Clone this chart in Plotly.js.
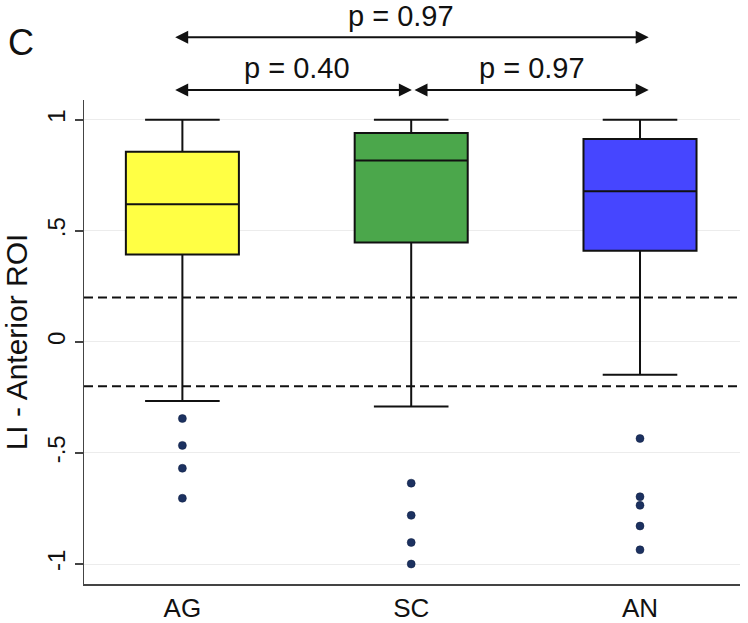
<!DOCTYPE html>
<html>
<head>
<meta charset="utf-8">
<script src="https://cdn.plot.ly/plotly-3.0.1.min.js"></script>
<style>html,body{margin:0;padding:0;background:#fff;}#chart{width:748px;height:623px;}</style>
</head>
<body>
<div id="chart"></div>
<script>
// ---- data ----
const groups = ['AG', 'SC', 'AN'];
const lowerWhisker = [-0.266, -0.291, -0.148];
const q1Values = [0.393, 0.447, 0.410];
const medianValues = [0.620, 0.817, 0.678];
const q3Values = [0.856, 0.940, 0.913];
const upperWhisker = [1.0, 1.0, 1.0];
const outliersAG = [-0.345, -0.466, -0.569, -0.704];
const outliersSC = [-0.636, -0.781, -0.903, -1.0];
const outliersAN = [-0.435, -0.697, -0.736, -0.829, -0.936];
const boxColors = ['#FFFF44', '#4BA74B', '#4646FF'];
const cutoffLines = [0.2, -0.2];
const yTickVals = [-1, -0.5, 0, 0.5, 1];
const yTickText = ['-1', '-.5', '0', '.5', '1'];
// comparisons: [from group index, to group index, p-value label, row]
const compFrom = [0, 0, 1];
const compTo = [2, 1, 2];
const compLabel = ['p = 0.97', 'p = 0.40', 'p = 0.97'];
const compRow = [1, 0, 0];

const FONT = 'Liberation Sans, Arial, sans-serif';
const outlierSets = [outliersAG, outliersSC, outliersAN];

const traces = [];
groups.forEach((g, i) => {
  traces.push({
    type: 'box',
    x: [g],
    q1: [q1Values[i]],
    median: [medianValues[i]],
    q3: [q3Values[i]],
    lowerfence: [lowerWhisker[i]],
    upperfence: [upperWhisker[i]],
    boxpoints: false,
    width: 0.494,
    whiskerwidth: 0.66,
    fillcolor: boxColors[i],
    line: {color: '#111', width: 2},
    showlegend: false,
    hoverinfo: 'skip'
  });
});
groups.forEach((g, i) => {
  traces.push({
    type: 'scatter',
    mode: 'markers',
    x: outlierSets[i].map(() => g),
    y: outlierSets[i],
    marker: {color: '#1c3160', size: 8, line: {color: '#0d1d40', width: 0.5}},
    showlegend: false,
    hoverinfo: 'skip',
    cliponaxis: false
  });
});

const shapes = cutoffLines.map(v => ({
  type: 'line', xref: 'paper', x0: 0, x1: 1, yref: 'y', y0: v, y1: v,
  line: {color: '#111', width: 2, dash: '9px,5px'}, layer: 'above'
}));

const rowArrowY = [1.0207, 1.1295];
const rowTextY = [1.066, 1.174];
const overshoot = 0.038;
const annotations = [];
compFrom.forEach((f, k) => {
  const t = compTo[k];
  const r = compRow[k];
  const startX = f === 1 ? f + 0.008 : f - overshoot;
  const endX = t === 1 ? t + 0.003 : t + overshoot;
  annotations.push({
    xref: 'x', yref: 'paper', x: endX, y: rowArrowY[r],
    axref: 'x', ayref: 'pixel', ax: startX, ay: 0,
    text: '', showarrow: true, arrowside: 'end+start',
    arrowhead: 2, startarrowhead: 2, arrowsize: 1.3, startarrowsize: 1.3,
    arrowwidth: 2, arrowcolor: '#111', standoff: 0, startstandoff: 0
  });
  annotations.push({
    xref: 'x', yref: 'paper', x: (f + t) / 2 + (r === 1 ? -0.045 : (f === 1 ? 0.03 : 0)),
    y: rowTextY[r], xanchor: 'center', yanchor: 'middle',
    text: compLabel[k], showarrow: false,
    font: {family: FONT, size: 29, color: '#111'}
  });
});
annotations.push({
  xref: 'paper', yref: 'paper', x: -0.096, y: 1.118, xanchor: 'center', yanchor: 'middle',
  text: 'C', showarrow: false, font: {family: FONT, size: 36, color: '#111'}
});

const layout = {
  width: 748, height: 623,
  margin: {l: 84, r: 8, t: 100, b: 39},
  paper_bgcolor: '#fff', plot_bgcolor: '#fff',
  boxmode: 'overlay',
  font: {family: FONT, color: '#111'},
  xaxis: {
    type: 'category', categoryorder: 'array', categoryarray: groups,
    range: [-0.43, 2.437], showgrid: false, zeroline: false,
    showline: true, linecolor: '#444', linewidth: 1.5,
    ticks: '', tickfont: {family: FONT, size: 26, color: '#111'},
    ticklabelstandoff: 0, fixedrange: true
  },
  yaxis: {
    range: [-1.09, 1.089], tickvals: yTickVals, ticktext: yTickText,
    tickangle: -90, tickfont: {family: FONT, size: 24, color: '#111'},
    ticks: 'outside', ticklen: 8, tickwidth: 1.5, tickcolor: '#444',
    showline: true, linecolor: '#444', linewidth: 1.5,
    showgrid: true, gridcolor: '#ececec', gridwidth: 1, zeroline: false,
    title: {text: 'LI - Anterior ROI', font: {family: FONT, size: 30, color: '#111'}, standoff: 6},
    fixedrange: true
  },
  shapes: shapes,
  annotations: annotations
};

Plotly.newPlot('chart', traces, layout, {displayModeBar: false, staticPlot: true});
</script>
</body>
</html>
